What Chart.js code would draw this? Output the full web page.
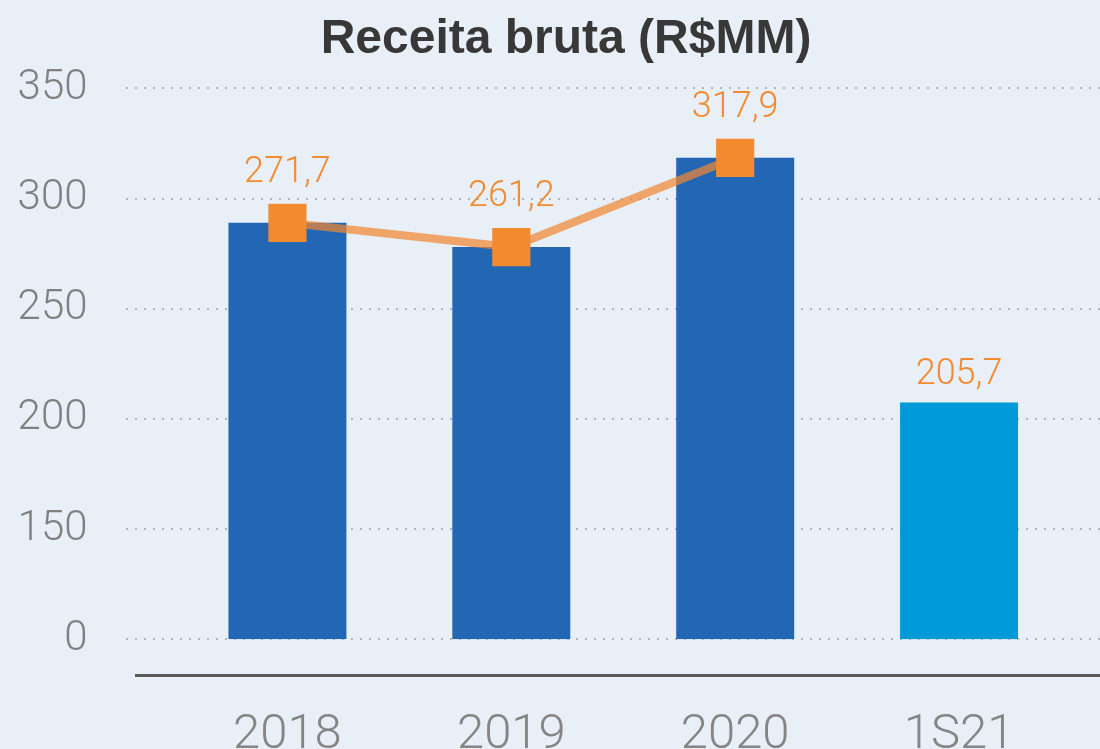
<!DOCTYPE html>
<html>
<head>
<meta charset="utf-8">
<script src="https://cdn.jsdelivr.net/npm/chart.js@4/dist/chart.umd.min.js"></script>
<style>
  html, body { margin: 0; padding: 0; background: #e8eff7; }
  #wrap { width: 1100px; height: 749px; }
</style>
</head>
<body>
<div id="wrap"><canvas id="receita" width="1100" height="749"></canvas></div>
<script>
// Chart data
var categories = ['2018', '2019', '2020', '1S21'];
var barValues = [289, 278, 318.5, 207.5];      // bar heights as drawn
var lineValues = [289, 278, 318.5, null];      // orange markers
var labelValues = [271.7, 261.2, 317.9, 205.7]; // printed labels
var yTicks = [0, 150, 200, 250, 300, 350];
var titleText = 'Receita bruta (R$MM)';

var barColors = ['#2366b3', '#2366b3', '#2366b3', '#009ad9'];
var lightFont = 'Roboto, "Liberation Sans", sans-serif';

// broken axis: 0..150 squeezed into one step, rest linear
function yMap(v) {
  if (v === null) return null;
  return v <= 150 ? v / 3 : v - 100;
}

function fmt(v) {
  return v.toFixed(1).replace('.', ',');
}

var extrasPlugin = {
  id: 'extras',
  beforeDraw: function (chart) {
    var ctx = chart.ctx;
    ctx.save();
    ctx.fillStyle = '#383838';
    ctx.font = 'bold 48px "Liberation Sans", Arial, sans-serif';
    ctx.textAlign = 'center';
    ctx.textBaseline = 'alphabetic';
    ctx.fillText(titleText, 566, 53);
    ctx.restore();
  },
  beforeDatasetsDraw: function (chart) {
    var ctx = chart.ctx;
    var y = chart.scales.y;
    ctx.save();
    // dotted gridlines
    ctx.strokeStyle = 'rgba(140,150,165,0.65)';
    ctx.lineWidth = 2;
    ctx.setLineDash([2, 7]);
    yTicks.forEach(function (t) {
      var py = Math.round(y.getPixelForValue(yMap(t)));
      ctx.beginPath();
      ctx.moveTo(126, py);
      ctx.lineTo(1100, py);
      ctx.stroke();
    });
    ctx.setLineDash([]);
    // baseline under the bars
    ctx.strokeStyle = '#5a5a5a';
    ctx.lineWidth = 3;
    ctx.beginPath();
    ctx.moveTo(135, 675.5);
    ctx.lineTo(1100, 675.5);
    ctx.stroke();
    ctx.restore();
  },
  afterDatasetsDraw: function (chart) {
    var ctx = chart.ctx;
    var lineMeta = chart.getDatasetMeta(1);
    var barMeta = chart.getDatasetMeta(0);
    ctx.save();
    ctx.fillStyle = '#f28a30';
    ctx.font = '300 36px ' + lightFont;
    ctx.textAlign = 'center';
    ctx.textBaseline = 'middle';
    labelValues.forEach(function (v, i) {
      if (lineValues[i] !== null) {
        var p = lineMeta.data[i];
        ctx.fillText(fmt(v), p.x, p.y - 50);
      } else {
        var b = barMeta.data[i];
        ctx.fillText(fmt(v), b.x, b.y - 27);
      }
    });
    ctx.restore();
  }
};

var chart = new Chart(document.getElementById('receita'), {
  type: 'bar',
  data: {
    labels: categories,
    datasets: [{
      type: 'bar',
      data: barValues.map(yMap),
      backgroundColor: barColors,
      borderWidth: 0,
      categoryPercentage: 1,
      barPercentage: 0.527,
      order: 2
    }, {
      type: 'line',
      data: lineValues.map(yMap),
      borderColor: 'rgba(241,135,50,0.72)',
      borderWidth: 8,
      pointStyle: 'rect',
      pointRadius: 27,
      pointBackgroundColor: '#f28a30',
      pointBorderWidth: 0,
      tension: 0,
      order: 1
    }]
  },
  options: {
    responsive: false,
    animation: false,
    layout: { padding: { left: 0, right: 29, top: 88.4, bottom: 0 } },
    plugins: {
      legend: { display: false },
      tooltip: { enabled: false },
      title: { display: false }
    },
    scales: {
      x: {
        offset: true,
        grid: { display: false, drawTicks: false },
        border: { display: false },
        ticks: {
          color: '#858585',
          padding: 67,
          font: { family: lightFont, size: 49, weight: 300 }
        },
        afterFit: function (scale) {
          scale.height = 109.7;
          scale.paddingLeft = 0;
          scale.paddingRight = 0;
        }
      },
      y: {
        min: 0,
        max: 250,
        grid: { display: false, drawTicks: false },
        border: { display: false },
        afterBuildTicks: function (scale) {
          scale.ticks = yTicks.map(function (t) { return { value: yMap(t) }; });
        },
        ticks: {
          color: '#808080',
          padding: 88,
          font: { family: lightFont, size: 42, weight: 300 },
          callback: function (value, index) { return String(yTicks[index]); }
        },
        afterFit: function (scale) {
          scale.width = 175.5;
          scale.paddingTop = 0;
          scale.paddingBottom = 0;
        }
      }
    }
  },
  plugins: [extrasPlugin]
});
</script>
</body>
</html>
